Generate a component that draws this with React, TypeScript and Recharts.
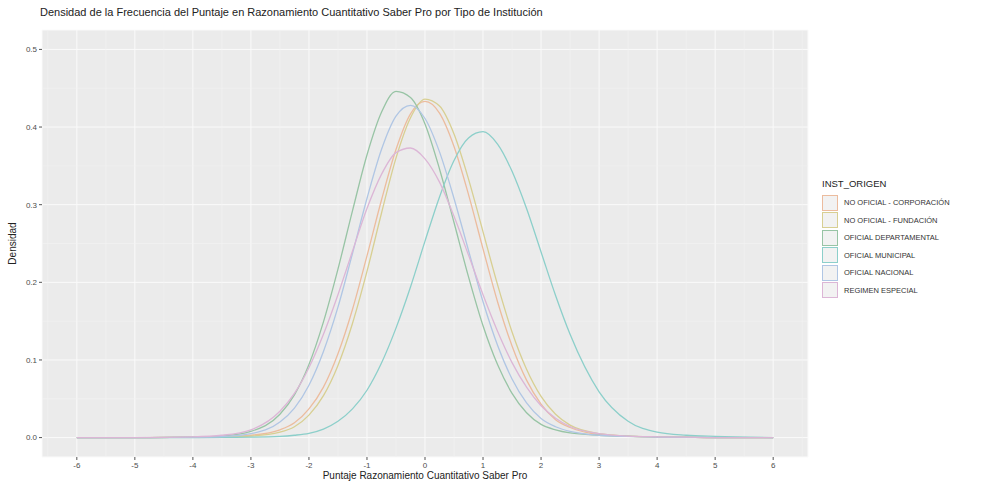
import { LineChart, Line, XAxis, YAxis, CartesianGrid, ReferenceLine, Label } from 'recharts';

const puntajes = [-6, -5, -4, -3.5, -3, -2.5, -2.25, -2, -1.75, -1.5, -1.25, -1, -0.75, -0.5, -0.25, 0, 0.25, 0.5, 0.75, 1, 1.25, 1.5, 1.75, 2, 2.25, 2.5, 3, 3.5, 4, 4.5, 5, 6];

const corporacion = [0, 0, 0.0005, 0.001, 0.003, 0.01, 0.019, 0.037, 0.065, 0.108, 0.165, 0.234, 0.306, 0.371, 0.417, 0.433, 0.418, 0.375, 0.313, 0.243, 0.175, 0.118, 0.074, 0.043, 0.023, 0.013, 0.004, 0.002, 0.001, 0.0005, 0, 0];
const fundacion = [0, 0, 0.0005, 0.001, 0.002, 0.007, 0.014, 0.029, 0.054, 0.093, 0.147, 0.214, 0.289, 0.36, 0.412, 0.436, 0.427, 0.391, 0.333, 0.265, 0.197, 0.136, 0.088, 0.053, 0.03, 0.016, 0.005, 0.002, 0.001, 0.0005, 0, 0];
const departamental = [0, 0, 0.0005, 0.002, 0.008, 0.03, 0.055, 0.094, 0.149, 0.217, 0.292, 0.364, 0.419, 0.446, 0.438, 0.404, 0.346, 0.277, 0.207, 0.144, 0.094, 0.057, 0.032, 0.017, 0.01, 0.006, 0.003, 0.0015, 0.0007, 0.0003, 0, 0];
const municipal = [0, 0, 0, 0.0003, 0.0005, 0.0015, 0.003, 0.0055, 0.011, 0.021, 0.037, 0.061, 0.096, 0.141, 0.194, 0.253, 0.31, 0.357, 0.386, 0.394, 0.378, 0.343, 0.295, 0.239, 0.183, 0.133, 0.059, 0.021, 0.007, 0.003, 0.0015, 0];
const nacional = [0, 0, 0.0005, 0.0012, 0.005, 0.02, 0.038, 0.0675, 0.111, 0.168, 0.237, 0.308, 0.371, 0.414, 0.428, 0.411, 0.368, 0.308, 0.241, 0.175, 0.119, 0.0755, 0.0446, 0.0246, 0.014, 0.008, 0.003, 0.0015, 0.0007, 0.0003, 0, 0];
const regimen = [0, 0, 0.001, 0.003, 0.01, 0.034, 0.057, 0.09, 0.133, 0.184, 0.24, 0.295, 0.339, 0.367, 0.373, 0.359, 0.329, 0.285, 0.235, 0.184, 0.137, 0.0966, 0.065, 0.041, 0.025, 0.0143, 0.005, 0.002, 0.001, 0.0005, 0, 0];

const grupos = ['NO OFICIAL - CORPORACIÓN', 'NO OFICIAL - FUNDACIÓN', 'OFICIAL DEPARTAMENTAL', 'OFICIAL MUNICIPAL', 'OFICIAL NACIONAL', 'REGIMEN ESPECIAL'];
const series = [corporacion, fundacion, departamental, municipal, nacional, regimen];
const colores = ['#ecbc9e', '#d8cf92', '#98c4a5', '#8ccfca', '#b0c6e4', '#dcb6d6'];

const xTicks = [-6, -5, -4, -3, -2, -1, 0, 1, 2, 3, 4, 5, 6];
const yTicks = [0, 0.1, 0.2, 0.3, 0.4, 0.5];
const xMinor = [-6.5, -5.5, -4.5, -3.5, -2.5, -1.5, -0.5, 0.5, 1.5, 2.5, 3.5, 4.5, 5.5, 6.5];
const yMinor = [0.05, 0.15, 0.25, 0.35, 0.45];

const data = puntajes.map((x, i) => {
  const row: any = { x };
  grupos.forEach((g, k) => { row['s' + k] = series[k][i]; });
  return row;
});

const font = '"Liberation Sans", Arial, sans-serif';

const Leyenda = () => (
  <div style={{ position: 'absolute', left: 818, top: 178, fontFamily: font, color: '#222' }}>
    <div style={{ fontSize: 9.5, marginBottom: 5, marginLeft: 4 }}>INST_ORIGEN</div>
    {grupos.map((g, k) => (
      <div key={g} style={{ display: 'flex', alignItems: 'center', height: 17.5, marginLeft: 4 }}>
        <div style={{ width: 16, height: 16, background: '#F2F2F2', boxSizing: 'border-box', border: '1px solid ' + colores[k] }} />
        <span style={{ fontSize: 7.5, marginLeft: 6, color: '#333' }}>{g}</span>
      </div>
    ))}
  </div>
);

export default function App() {
  return (
    <div style={{ position: 'absolute', left: 0, top: 0, width: 982, height: 489, background: '#fff' }}>
      <div style={{ position: 'absolute', left: 40, top: 6, fontFamily: font, fontSize: 11, color: '#222' }}>
        Densidad de la Frecuencia del Puntaje en Razonamiento Cuantitativo Saber Pro por Tipo de Institución
      </div>
      <LineChart width={982} height={489} data={data} margin={{ top: 30, right: 174, bottom: 12, left: 12 }}>
        <CartesianGrid fill="#EBEBEB" stroke="#FAFAFA" strokeWidth={1} />
        {xMinor.map(v => <ReferenceLine key={'vx' + v} x={v} stroke="#F3F3F3" strokeWidth={0.6} />)}
        {yMinor.map(v => <ReferenceLine key={'hy' + v} y={v} stroke="#F3F3F3" strokeWidth={0.6} />)}
        <XAxis dataKey="x" type="number" domain={[-6.6, 6.6]} ticks={xTicks} allowDataOverflow
          axisLine={false} tickLine={{ stroke: '#555' }} tickSize={3} height={20}
          tick={{ fontSize: 8, fill: '#4D4D4D', fontFamily: font }}>
          <Label value="Puntaje Razonamiento Cuantitativo Saber Pro" position="insideBottom" offset={-2}
            style={{ fontSize: 10, fill: '#222', fontFamily: font }} />
        </XAxis>
        <YAxis type="number" domain={[-0.025, 0.525]} ticks={yTicks} allowDataOverflow width={30}
          axisLine={false} tickLine={{ stroke: '#555' }} tickSize={3}
          tickFormatter={(v: number) => v.toFixed(1)}
          tick={{ fontSize: 8, fill: '#4D4D4D', fontFamily: font }}>
          <Label value="Densidad" angle={-90} position="insideLeft" offset={0}
            style={{ fontSize: 10, fill: '#222', fontFamily: font, textAnchor: 'middle' }} />
        </YAxis>
        {grupos.map((g, k) => (
          <Line key={g} type="monotone" dataKey={'s' + k} name={g} stroke={colores[k]} strokeWidth={1.3}
            dot={false} isAnimationActive={false} />
        ))}
      </LineChart>
      <Leyenda />
    </div>
  );
}
